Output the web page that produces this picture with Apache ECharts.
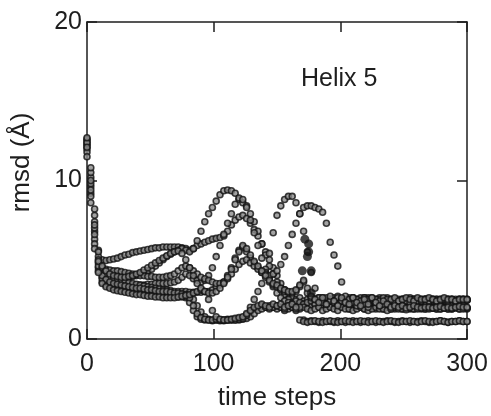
<!doctype html>
<html lang="en">
  <head>
    <meta charset="utf-8">
    <title>Helix 5 rmsd</title>
    <script src="https://cdn.jsdelivr.net/npm/echarts@6/dist/echarts.min.js"></script>
    <style>
      html, body { margin: 0; padding: 0; background: #fff; }
      #chart { width: 491px; height: 416px; }
    </style>
  </head>
  <body>
    <div id="chart"></div>
    <script>
    // time steps shared by every run (every 3rd step)
    var timeSteps = [];
    for (var t = 0; t <= 300; t += 3) timeSteps.push(t);

    var xTicks = [0, 100, 200, 300];
    var yTicks = [0, 10, 20];

    // rmsd (A) for each run, one value per time step above
    var run1 = [12.5, 10.2, 7.4, 5.6, 5.0, 4.95, 5.0, 5.05, 5.1, 5.2,
      5.3, 5.35, 5.45, 5.5, 5.55, 5.6, 5.65, 5.7, 5.75, 5.75,
      5.8, 5.8, 5.8, 5.8, 5.8, 5.75, 5.7, 5.6, 5.7, 5.9,
      6.0, 6.1, 6.2, 6.3, 6.35, 6.4, 6.5, 6.8, 7.2, 7.5,
      7.7, 7.8, 7.6, 7.3, 6.9, 6.5, 6.0, 5.5, 5.0, 4.5,
      4.0, 3.5, 3.1, 2.8, 2.6, 2.5, 2.6, 2.4, 2.5, 2.6,
      2.5, 2.4, 2.6, 2.5, 2.4, 2.6, 2.5, 2.5, 2.4, 2.6,
      2.5, 2.4, 2.5, 2.6, 2.5, 2.4, 2.5, 2.6, 2.5, 2.4,
      2.5, 2.5, 2.4, 2.5, 2.5, 2.4, 2.5, 2.5, 2.4, 2.5,
      2.5, 2.4, 2.5, 2.5, 2.4, 2.5, 2.5, 2.4, 2.5, 2.5,
      2.45];
    var run2 = [12.2, 9.6, 6.8, 4.8, 4.3, 4.1, 4.0, 3.95, 3.9, 3.9,
      3.85, 3.9, 3.95, 4.0, 4.1, 4.2, 4.3, 4.4, 4.6, 4.8,
      5.0, 5.2, 5.35, 5.5, 5.6, 5.7, 5.6, 5.5, 5.7, 6.2,
      6.8, 7.4, 7.9, 8.3, 8.7, 9.1, 9.35, 9.4, 9.35, 9.2,
      8.8, 8.6, 8.4, 7.9, 7.4, 6.8, 6.0, 5.3, 4.6, 4.1,
      3.6, 3.2, 2.8, 2.5, 2.3, 2.2, 2.1, 2.2, 2.0, 2.1,
      2.2, 2.0, 2.1, 2.2, 2.0, 2.1, 2.2, 2.0, 2.1, 1.9,
      2.0, 2.1, 2.0, 1.9, 2.1, 2.0, 1.9, 2.0, 2.1, 2.0,
      1.9, 2.0, 2.0, 1.9, 2.0, 2.0, 1.9, 2.0, 2.0, 1.9,
      2.0, 1.95, 2.0, 1.9, 2.0, 1.95, 1.9, 2.0, 1.95, 1.95,
      1.95];
    var run3 = [12.0, 9.2, 6.3, 4.5, 3.9, 3.7, 3.6, 3.55, 3.5, 3.5,
      3.45, 3.45, 3.4, 3.4, 3.4, 3.4, 3.45, 3.45, 3.5, 3.5,
      3.5, 3.5, 3.55, 3.6, 3.7, 3.9, 4.1, 4.0, 3.8, 3.7,
      3.6, 3.7, 4.0, 4.5, 5.2, 5.9, 6.6, 7.3, 7.9, 8.5,
      8.9, 8.8, 8.3, 7.5, 6.7, 5.9, 5.1, 4.4, 3.8, 3.3,
      2.9, 2.6, 2.4, 2.3, 2.2, 2.4, 2.3, 2.2, 2.3, 2.4,
      2.2, 2.6, 2.4, 2.1, 2.5, 2.3, 2.7, 2.2, 2.4, 2.1,
      2.2, 2.3, 2.1, 2.2, 2.1, 2.0, 2.1, 2.0, 1.9, 2.0,
      2.0, 1.9, 2.0, 1.95, 2.0, 1.9, 2.0, 1.95, 1.9, 2.0,
      1.95, 2.0, 1.9, 1.95, 2.0, 1.9, 1.95, 2.0, 1.9, 1.95,
      1.9];
    var run4 = [12.6, 10.5, 7.8, 5.2, 4.4, 4.1, 3.9, 3.8, 3.7, 3.65,
      3.6, 3.55, 3.5, 3.45, 3.4, 3.35, 3.3, 3.25, 3.2, 3.15,
      3.1, 3.1, 3.05, 3.0, 3.0, 3.0, 3.0, 2.95, 2.95, 2.95,
      2.95, 3.0, 3.0, 3.1, 3.3, 3.4, 3.6, 4.0, 4.5, 5.1,
      5.6, 5.8, 5.5, 5.1, 4.8, 4.5, 4.2, 3.9, 3.6, 3.4,
      3.3, 3.1, 3.0, 2.95, 2.9, 3.0, 3.3, 3.6, 2.9, 2.6,
      2.5, 2.4, 2.5, 2.6, 2.5, 2.4, 2.6, 2.5, 2.5, 2.4,
      2.6, 2.5, 2.4, 2.5, 2.6, 2.5, 2.4, 2.5, 2.5, 2.6,
      2.4, 2.5, 2.5, 2.4, 2.5, 2.6, 2.5, 2.4, 2.5, 2.5,
      2.4, 2.5, 2.5, 2.4, 2.5, 2.5, 2.4, 2.5, 2.5, 2.4,
      2.5];
    var run5 = [11.8, 9.0, 6.0, 4.3, 3.6, 3.4, 3.3, 3.25, 3.2, 3.15,
      3.1, 3.05, 3.0, 3.0, 2.95, 2.9, 2.9, 2.85, 2.85, 2.8,
      2.8, 2.8, 2.75, 2.75, 2.7, 2.7, 2.6, 2.3, 1.8, 1.4,
      1.25, 1.2, 1.2, 1.15, 1.2, 1.2, 1.15, 1.2, 1.25, 1.2,
      1.25, 1.3, 1.5, 1.7, 1.9, 2.0, 2.1, 2.0, 1.9, 2.0,
      1.9, 2.0, 1.8, 1.9, 2.0, 1.8, 1.9, 2.0, 1.9, 1.8,
      1.9, 2.0, 1.8, 1.9, 2.0, 1.9, 1.8, 2.0, 1.9, 1.9,
      1.8, 1.9, 2.0, 1.9, 1.8, 1.9, 2.0, 1.9, 1.9, 1.8,
      1.9, 2.0, 1.9, 1.9, 1.85, 1.95, 1.9, 1.9, 2.0, 1.9,
      1.9, 1.95, 1.9, 1.9, 1.95, 1.9, 1.9, 1.95, 1.9, 1.9,
      1.95];
    var run6 = [12.3, 9.8, 7.0, 4.6, 3.8, 3.55, 3.4, 3.3, 3.2, 3.1,
      3.1, 3.05, 3.0, 2.95, 2.9, 2.9, 2.85, 2.8, 2.8, 2.75,
      2.75, 2.7, 2.7, 2.7, 2.65, 2.65, 2.7, 2.7, 2.5, 2.1,
      1.7, 1.4, 1.25, 1.2, 1.2, 1.15, 1.2, 1.2, 1.2, 1.25,
      1.2, 1.25, 1.3, 1.4, 1.6, 1.8, 1.9, 2.0, 2.1, 2.0,
      2.1, 2.0, 1.9, 2.1, 2.0, 1.9, 2.0, 1.2, 1.1, 1.15,
      1.1, 1.05, 1.15, 1.1, 1.1, 1.05, 1.15, 1.1, 1.05, 1.1,
      1.15, 1.1, 1.05, 1.1, 1.15, 1.1, 1.05, 1.1, 1.1, 1.15,
      1.1, 1.05, 1.1, 1.15, 1.1, 1.05, 1.1, 1.1, 1.15, 1.1,
      1.05, 1.1, 1.1, 1.15, 1.1, 1.05, 1.1, 1.1, 1.15, 1.1,
      1.1];
    var run7 = [12.4, 10.0, 7.2, 5.0, 4.0, 3.75, 3.6, 3.5, 3.45, 3.4,
      3.35, 3.3, 3.25, 3.2, 3.2, 3.15, 3.1, 3.1, 3.05, 3.0,
      3.0, 3.0, 2.95, 2.9, 2.9, 2.85, 2.8, 2.6, 2.1, 1.6,
      1.35, 1.25, 1.2, 1.2, 1.25, 1.2, 1.2, 1.25, 1.2, 1.2,
      1.25, 1.3, 1.5, 2.0, 2.5, 3.0, 3.5, 4.2, 5.4, 6.7,
      7.8, 8.4, 8.8, 9.0, 9.0, 8.6, 7.9, 6.8, 5.5, 4.2,
      3.2, 2.6, 2.3, 2.2, 2.4, 2.3, 2.2, 2.4, 2.3, 2.2,
      2.3, 2.1, 2.6, 2.2, 2.0, 2.5, 2.3, 2.1, 2.2, 2.4,
      2.4, 2.3, 2.4, 2.5, 2.4, 2.3, 2.5, 2.4, 2.4, 2.5,
      2.4, 2.5, 2.4, 2.4, 2.5, 2.4, 2.5, 2.4, 2.45, 2.5,
      2.45];
    var run8 = [12.1, 9.4, 6.6, 4.9, 4.5, 4.4, 4.35, 4.3, 4.3, 4.25,
      4.2, 4.15, 4.1, 4.05, 4.0, 4.0, 3.95, 3.95, 3.9, 3.9,
      3.9, 3.95, 4.0, 4.1, 4.3, 4.5, 4.6, 4.5, 4.3, 4.1,
      3.9, 3.8, 3.7, 3.6, 3.5, 3.5, 3.6, 3.8, 4.1, 4.4,
      4.7, 4.9, 5.0, 4.8, 4.6, 4.4, 4.2, 4.1, 4.0, 4.1,
      4.3, 4.7, 5.2, 5.9, 6.6, 7.3, 7.9, 8.3, 8.4, 8.4,
      8.3, 8.2, 8.0, 7.3, 6.1, 5.3, 4.6, 3.6, 2.7, 2.5,
      2.6, 2.5, 2.4, 2.6, 2.5, 2.6, 2.5, 2.4, 2.6, 2.5,
      2.5, 2.6, 2.4, 2.5, 2.6, 2.5, 2.4, 2.6, 2.5, 2.5,
      2.6, 2.5, 2.4, 2.5, 2.6, 2.5, 2.5, 2.4, 2.5, 2.5,
      2.5];
    var run9 = [11.5, 8.6, 5.7, 4.2, 3.5, 3.3, 3.2, 3.1, 3.05, 3.0,
      2.95, 2.9, 2.85, 2.8, 2.8, 2.75, 2.7, 2.7, 2.65, 2.65,
      2.6, 2.6, 2.6, 2.6, 2.65, 2.7, 2.75, 2.8, 2.9, 3.0,
      3.1, 3.0, 2.5, 1.8, 1.4, 1.25, 1.2, 1.2, 1.25, 1.3,
      1.35, 1.4, 1.6, 1.8, 2.0, 2.1, 2.2, 2.1, 2.0, 2.2,
      2.1, 2.2, 2.0, 2.1, 2.2, 2.0, 1.2, 1.1, 1.05, 1.1,
      1.15, 1.1, 1.05, 1.1, 1.15, 1.1, 1.05, 1.1, 1.15, 1.1,
      1.05, 1.1, 1.15, 1.1, 1.05, 1.1, 1.15, 1.1, 1.05, 1.1,
      1.15, 1.1, 1.05, 1.1, 1.1, 1.15, 1.1, 1.05, 1.1, 1.15,
      1.1, 1.05, 1.1, 1.15, 1.1, 1.05, 1.1, 1.1, 1.15, 1.1,
      1.1];
    var run10 = [12.7, 10.8, 8.2, 5.5, 4.6, 4.3, 4.1, 4.0, 3.95, 3.9,
      3.9, 3.95, 4.0, 4.1, 4.2, 4.35, 4.5, 4.65, 4.8, 4.95,
      5.1, 5.25, 5.4, 5.5, 5.55, 5.4, 5.0, 4.5, 4.0, 3.5,
      3.2, 3.0, 2.9, 2.9, 3.0, 3.2, 3.5, 3.9, 4.4, 5.0,
      5.5, 5.9, 5.7, 5.3, 4.9, 4.6, 4.3, 4.0, 3.7, 3.5,
      3.4, 3.2, 3.1, 3.0, 3.0, 3.1, 3.4, 3.7, 3.2, 2.7,
      2.5, 2.3, 2.6, 2.2, 2.7, 2.4, 2.1, 2.6, 2.3, 2.2,
      2.6, 2.3, 2.1, 2.5, 2.2, 2.6, 2.3, 2.1, 2.4, 2.2,
      2.0, 2.1, 2.0, 2.1, 1.95, 2.0, 2.1, 2.0, 1.95, 2.0,
      2.0, 1.95, 2.0, 2.05, 1.95, 2.0, 1.95, 2.0, 2.05, 2.0,
      2.0];
    // the few large filled points near step 175
    var bigDotSteps = [172, 175, 175, 174, 170, 177, 177];
    var bigDotRmsd = [6.3, 6.0, 5.5, 5.2, 4.3, 4.3, 2.9];

    var runs = [run1, run2, run3, run4, run5, run6, run7, run8, run9, run10];

    var chart = echarts.init(document.getElementById('chart'), null, { renderer: 'canvas' });

    var font = 'Liberation Sans, Arial, sans-serif';
    var ink = '#1e1e1e';

    function axisBase(ticks, extra) {
      var a = {
        type: 'value',
        min: ticks[0],
        max: ticks[ticks.length - 1],
        interval: ticks[1] - ticks[0],
        splitLine: { show: false },
        axisLine: { show: true, onZero: false, lineStyle: { color: ink, width: 1.5 } },
        axisTick: { show: true, inside: true, length: 10, lineStyle: { color: ink, width: 1.5 } },
        axisLabel: { show: false }
      };
      for (var k in extra) a[k] = extra[k];
      return a;
    }

    var series = runs.map(function (run, i) {
      return {
        name: 'run ' + (i + 1),
        type: 'scatter',
        symbol: 'circle',
        symbolSize: 6,
        itemStyle: { color: '#8c8c8c', borderColor: '#111', borderWidth: 1.6 },
        data: timeSteps.map(function (t, j) { return [t, run[j]]; }),
        silent: true
      };
    });
    series.push({
      name: 'filled',
      type: 'scatter',
      symbol: 'circle',
      symbolSize: 9,
      itemStyle: { color: '#151515' },
      data: bigDotSteps.map(function (t, j) { return [t, bigDotRmsd[j]]; }),
      silent: true
    });

    var option = {
      animation: false,
      backgroundColor: '#fff',
      title: {
        text: 'Helix 5',
        left: 301,
        top: 67,
        padding: 0,
        textStyle: { fontFamily: font, fontSize: 25, fontWeight: 'normal', color: ink }
      },
      grid: { left: 87, right: 24, top: 22, bottom: 75 },
      xAxis: [
        axisBase(xTicks, {
          position: 'bottom',
          name: 'time steps',
          nameLocation: 'middle',
          nameGap: 46,
          nameTextStyle: { fontFamily: font, fontSize: 26, color: ink },
          axisLabel: { show: true, margin: 13, fontFamily: font, fontSize: 25, color: ink }
        }),
        axisBase(xTicks, { position: 'top' })
      ],
      yAxis: [
        axisBase(yTicks, {
          position: 'left',
          name: 'rmsd (Å)',
          nameLocation: 'middle',
          nameGap: 52,
          nameTextStyle: { fontFamily: font, fontSize: 26, color: ink, padding: [0, 0, 0, 36] },
          axisLabel: { show: true, margin: 5, fontFamily: font, fontSize: 25, color: ink }
        }),
        axisBase(yTicks, { position: 'right' })
      ],
      series: series
    };

    chart.setOption(option);
    </script>
  </body>
</html>
